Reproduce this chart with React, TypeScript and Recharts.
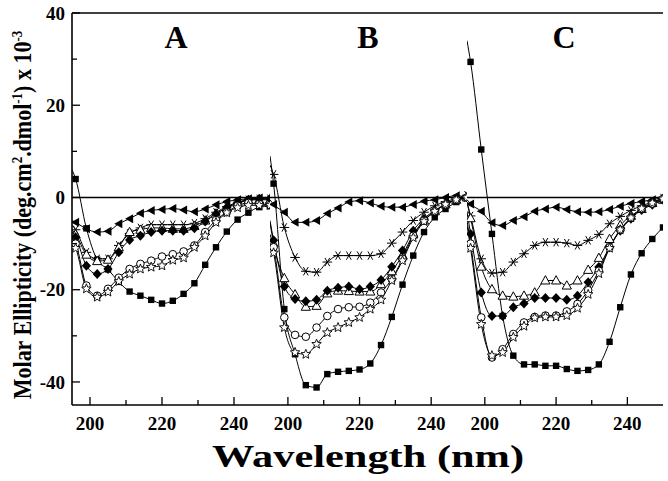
import React from 'react';
import { LineChart, Line, XAxis, YAxis, ReferenceLine } from 'recharts';

const wavelengths = [195, 196, 199, 202, 205, 208, 211, 214, 217, 220, 223, 226, 229, 232, 235, 238, 241, 244, 247, 250];
const xTicks = [200, 210, 220, 230, 240];
const yTicks = [-40, -30, -20, -10, 0, 10, 20, 30, 40];
const panelLabels = ['A', 'B', 'C'];
const xTitle = 'Wavelength (nm)';

// Panel A
const aSquare = [6, 4, -6.7, -13.5, -15.6, -18.3, -20.4, -21.3, -22.2, -23, -22.4, -20.9, -18.6, -14.6, -10.8, -7.4, -4.8, -3.3, -2.1, -1.9];
const aLeftTri = [-5, -5.4, -6.8, -7.5, -7.3, -5.7, -4.6, -3.4, -2.8, -2.6, -2.4, -2.7, -3.1, -2.5, -1.6, -0.9, -0.5, -0.3, -0.1, 0];
const aAsterisk = [-6, -7, -11.9, -13.3, -13.3, -10.4, -7.8, -6.6, -5.9, -5.9, -5.9, -5.9, -5.6, -4.6, -3.2, -2, -1, -0.5, -0.3, -0.3];
const aOpenTri = [-7, -8, -12.4, -13.8, -13.5, -10.8, -7.5, -7.0, -6.6, -6.6, -6.8, -6.8, -6.2, -5, -3.5, -2.2, -1.2, -0.6, -0.5, -0.5];
const aDiamond = [-7.5, -8.6, -14.8, -16.6, -15.5, -11.9, -9.2, -8.3, -7.5, -7.2, -7.2, -7.2, -6.7, -5.2, -3.6, -2.2, -1.2, -0.5, -0.3, -0.3];
const aCircle = [-9, -10, -19.1, -21.3, -19.8, -17.4, -15.5, -14.4, -13.7, -12.8, -12.3, -11.7, -10.4, -7.5, -4.9, -3.2, -1.8, -1.2, -1.4, -1.6];
const aStar = [-10, -11, -19.8, -21.6, -20.5, -18.2, -16.6, -15.5, -15.1, -14.8, -13.6, -13.1, -10.8, -8.3, -5.4, -3.3, -2.2, -1.7, -1.7, -1.7];

// Panel B
const bSquare = [9, 3, -24.2, -34, -40.7, -41.2, -38.3, -37.8, -37.6, -37.3, -36, -32, -25.9, -18.9, -12.6, -7.5, -4.3, -2.5, -1, 0];
const bLeftTri = [-0.5, -1.5, -3.2, -5.4, -5.4, -5.0, -3.5, -2.3, -1.0, -0.7, -1.2, -1.9, -2.1, -2.1, -1.5, -0.8, -0.5, 0, 0.4, 0];
const bAsterisk = [7, 5, -6.5, -13, -16, -16.2, -14, -12.6, -12.6, -12.6, -12.6, -12.2, -9.9, -7.5, -5, -3.2, -1.8, -0.9, -0.2, 0.5];
const bOpenTri = [-5.5, -10, -17.5, -21, -23.7, -23.5, -20.8, -20.2, -20.3, -20.4, -20.4, -18.8, -16, -12.5, -8, -5, -3, -1.5, -0.5, 0];
const bDiamond = [-5, -9.3, -19.3, -22, -22.5, -22.2, -20.2, -19.6, -19.3, -19.9, -19.3, -17.9, -15, -11.5, -7.2, -4.6, -2.8, -1.5, -0.3, 0];
const bCircle = [-8, -10.8, -26, -29.8, -30.2, -28.2, -25.7, -24.2, -23.8, -23.7, -22.8, -20.6, -17.7, -13.3, -8.3, -5, -3, -1.5, -0.5, 0];
const bStar = [-9, -12, -28.2, -33.6, -34, -31.8, -29.3, -28.2, -27.1, -26, -24.2, -22.2, -18, -13.7, -8.7, -5.2, -3, -1.5, -0.5, 0];

// Panel C
const cSquare = [34, 29.4, 10.4, -7.9, -25.7, -34.3, -36.2, -36.2, -36.5, -36.5, -37.2, -37.6, -37.4, -36.2, -31.3, -23.8, -16.7, -12.1, -9, -6.5];
const cLeftTri = [-0.5, -1.4, -3, -5.5, -6.1, -5, -4.2, -3.0, -2.5, -2.1, -2.6, -3.1, -3.2, -3.1, -2.6, -1.9, -1.3, -0.9, -0.5, 0];
const cAsterisk = [-1, -4, -13.3, -16.4, -16.2, -14, -12.2, -10.4, -9.7, -9.7, -9.9, -10.4, -9.3, -8.0, -5.7, -4.1, -2.8, -1.8, -1.0, -0.1];
const cOpenTri = [-1, -4.5, -15, -19.9, -21.3, -21.5, -21.3, -20.6, -18, -18, -19.1, -18, -15.7, -13.1, -9, -6, -4, -2.5, -1.2, -0.5];
const cDiamond = [-3, -7.9, -20.6, -25.7, -25.7, -23.8, -23, -21.8, -21.8, -21.8, -22.2, -21.3, -18.4, -15.1, -10.8, -7.2, -4.6, -2.7, -1.6, -0.5];
const cCircle = [-5, -10, -26, -34.7, -32.9, -29.6, -27.1, -25.9, -25.6, -25.6, -24.7, -23.1, -20.1, -15.9, -10.8, -7, -4.4, -2.4, -1.3, -0.3];
const cStar = [-6, -11, -27.5, -34.3, -33.6, -30.3, -27.9, -26.1, -25.9, -25.9, -25.6, -24, -21, -16.5, -11, -7, -4.4, -2.4, -1.2, -0.3];

const seriesKinds = ['sq', 'ltri', 'ast', 'otri', 'dia', 'circ', 'star'];

function build(cols: number[][]) {
  return wavelengths.map((x, i) => {
    const row: any = { x };
    seriesKinds.forEach((k, j) => { row[k] = cols[j][i]; });
    return row;
  });
}

const panels = [
  build([aSquare, aLeftTri, aAsterisk, aOpenTri, aDiamond, aCircle, aStar]),
  build([bSquare, bLeftTri, bAsterisk, bOpenTri, bDiamond, bCircle, bStar]),
  build([cSquare, cLeftTri, cAsterisk, cOpenTri, cDiamond, cCircle, cStar]),
];

const FONT = '"Liberation Serif", "Times New Roman", serif';
const PLOT_TOP = 13;
const X_AXIS_H = 76;
const H = 481;
const panelLeft = [72, 270, 467];
const panelWidth = [198, 197, 196];

function makeDot(kind: string) {
  return (props: any) => {
    const { cx, cy, payload, index } = props;
    const key = `${kind}-${index}`;
    if (cx == null || cy == null || payload.x === 195) return <g key={key} />;
    switch (kind) {
      case 'sq':
        return <rect key={key} x={cx - 3.2} y={cy - 3.2} width={6.4} height={6.4} fill="#000" />;
      case 'ltri':
        return <polygon key={key} points={`${cx - 4.5},${cy} ${cx + 3.5},${cy - 4.5} ${cx + 3.5},${cy + 4.5}`} fill="#000" />;
      case 'ast': {
        const r = 4.8;
        const segs = [0, 60, 120].map((a) => {
          const rad = (a * Math.PI) / 180;
          const dx = r * Math.cos(rad);
          const dy = r * Math.sin(rad);
          return <line key={a} x1={cx - dx} y1={cy - dy} x2={cx + dx} y2={cy + dy} stroke="#000" strokeWidth={1} />;
        });
        return <g key={key}>{segs}</g>;
      }
      case 'otri':
        return <polygon key={key} points={`${cx},${cy - 4.8} ${cx + 4.6},${cy + 3.5} ${cx - 4.6},${cy + 3.5}`} fill="#fff" stroke="#000" strokeWidth={1} />;
      case 'dia':
        return <polygon key={key} points={`${cx},${cy - 5} ${cx + 4.6},${cy} ${cx},${cy + 5} ${cx - 4.6},${cy}`} fill="#000" />;
      case 'circ':
        return <circle key={key} cx={cx} cy={cy} r={3.8} fill="#fff" stroke="#000" strokeWidth={1} />;
      case 'star': {
        const pts: string[] = [];
        for (let i = 0; i < 10; i++) {
          const r = i % 2 === 0 ? 5 : 2.2;
          const a = -Math.PI / 2 + (i * Math.PI) / 5;
          pts.push(`${cx + r * Math.cos(a)},${cy + r * Math.sin(a)}`);
        }
        return <polygon key={key} points={pts.join(' ')} fill="#fff" stroke="#000" strokeWidth={0.9} />;
      }
      default:
        return <g key={key} />;
    }
  };
}

const LeftTick = (showLabel: boolean) => (props: any) => {
  const { x, y, payload } = props;
  const v = payload.value;
  const major = v % 20 === 0;
  return (
    <g>
      <line x1={x} y1={y} x2={x + (major ? 8 : 5)} y2={y} stroke="#000" strokeWidth={1.3} />
      {showLabel && major ? (
        <text x={x - 7} y={y} dy="0.35em" textAnchor="end" fontFamily={FONT} fontWeight="bold" fontSize={19} fill="#000">
          {v}
        </text>
      ) : null}
    </g>
  );
};

const RightTick = (props: any) => {
  const { x, y, payload } = props;
  const major = payload.value % 20 === 0;
  return <line x1={x} y1={y} x2={x - (major ? 8 : 5)} y2={y} stroke="#000" strokeWidth={1.3} />;
};

const BottomTick = (props: any) => {
  const { x, y, payload } = props;
  const v = payload.value;
  const major = v % 20 === 0;
  return (
    <g>
      <line x1={x} y1={y} x2={x} y2={y - (major ? 8 : 5)} stroke="#000" strokeWidth={1.3} />
      {major ? (
        <text x={x} y={y + 25} textAnchor="middle" fontFamily={FONT} fontWeight="bold" fontSize={19} fill="#000">
          {v}
        </text>
      ) : null}
    </g>
  );
};

function Panel({ idx }: { idx: number }) {
  const isFirst = idx === 0;
  const leftW = isFirst ? 72 : 0;
  const chartLeft = isFirst ? 0 : panelLeft[idx];
  const width = panelWidth[idx] + leftW;
  const axisStyle = { stroke: '#000', strokeWidth: 1.6 };
  return (
    <div style={{ position: 'absolute', left: chartLeft, top: 0 }}>
      <LineChart width={width} height={H} data={panels[idx]} margin={{ top: PLOT_TOP, right: 0, bottom: 0, left: 0 }}>
        <XAxis
          dataKey="x"
          type="number"
          domain={[195, 250]}
          ticks={xTicks}
          interval={0}
          height={X_AXIS_H}
          tickLine={false}
          tickSize={0}
          tickMargin={0}
          axisLine={axisStyle}
          tick={BottomTick}
          allowDataOverflow
        />
        <YAxis
          yAxisId="l"
          orientation="left"
          type="number"
          domain={[-45, 40]}
          ticks={yTicks}
          interval={0}
          width={leftW}
          tickLine={false}
          tickSize={0}
          tickMargin={0}
          axisLine={axisStyle}
          tick={LeftTick(isFirst)}
          allowDataOverflow
        />
        <YAxis
          yAxisId="r"
          orientation="right"
          type="number"
          domain={[-45, 40]}
          ticks={yTicks}
          interval={0}
          width={0}
          tickLine={false}
          tickSize={0}
          tickMargin={0}
          axisLine={axisStyle}
          tick={RightTick}
          allowDataOverflow
        />
        <ReferenceLine yAxisId="l" y={40} stroke="#000" strokeWidth={1.6} ifOverflow="visible" />
        <ReferenceLine yAxisId="l" y={0} stroke="#000" strokeWidth={1.4} />
        {seriesKinds.map((k) => (
          <Line
            key={k}
            yAxisId="l"
            dataKey={k}
            type="monotone"
            stroke="#000"
            strokeWidth={1}
            dot={makeDot(k)}
            activeDot={false}
            isAnimationActive={false}
          />
        ))}
      </LineChart>
    </div>
  );
}

export default function App() {
  const letterX = [176, 368, 564];
  return (
    <div style={{ position: 'absolute', left: 0, top: 0, width: 668, height: 481, background: '#fff', overflow: 'hidden' }}>
      {[0, 1, 2].map((i) => (
        <Panel key={i} idx={i} />
      ))}
      <svg width={668} height={481} style={{ position: 'absolute', left: 0, top: 0, pointerEvents: 'none' }}>
        {panelLabels.map((t, i) => (
          <text key={t} x={letterX[i]} y={48} textAnchor="middle" fontFamily={FONT} fontWeight="bold" fontSize={32} fill="#000">
            {t}
          </text>
        ))}
        <text x={368} y={467} textAnchor="middle" fontFamily={FONT} fontWeight="bold" fontSize={31} fill="#000" textLength={312} lengthAdjust="spacingAndGlyphs">
          {xTitle}
        </text>
        <text transform="translate(31,215) rotate(-90) scale(1,1.15)" textAnchor="middle" fontFamily={FONT} fontWeight="bold" fontSize={22} fill="#000">
          Molar Ellipticity (deg.cm
          <tspan dy={-8} fontSize={13}>2</tspan>
          <tspan dy={8}>.dmol</tspan>
          <tspan dy={-8} fontSize={13}>-1</tspan>
          <tspan dy={8}>) x 10</tspan>
          <tspan dy={-8} fontSize={13}>-3</tspan>
        </text>
      </svg>
    </div>
  );
}
